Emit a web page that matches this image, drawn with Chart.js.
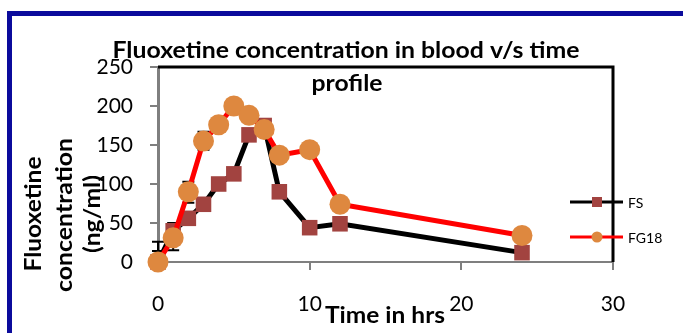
<!DOCTYPE html>
<html lang="en">
<head>
<meta charset="UTF-8">
<title>Fluoxetine concentration in blood v/s time profile</title>
<script src="https://cdn.jsdelivr.net/npm/chart.js@4.4.2/dist/chart.umd.min.js"></script>
<style>
  html, body { margin: 0; padding: 0; background: #ffffff; }
  #wrap { position: relative; width: 683px; height: 333px; overflow: hidden; }
</style>
</head>
<body>
<div id="wrap"><canvas id="pk-chart" width="683" height="333"></canvas></div>
<script>
// Datos del perfil: tiempo (h) y concentración en sangre (ng/ml)
const timeHrs = [0, 1, 2, 3, 4, 5, 6, 7, 8, 10, 12, 24];
const fsConc = [0, 40, 56, 74, 100, 113, 163, 175, 90, 44, 49, 12];
const fg18Conc = [0, 31, 90, 155, 176, 200, 188, 170, 137, 144, 74, 34];

// Barras de error (solo las primeras horas)
const errTimes = [0, 1, 2, 3];
const errLow = [14, 15, 76, 144];
const errHigh = [26, 50, 103, 167];

// Marcas de los ejes
const xTicks = [0, 10, 20, 30];
const yTicks = [0, 50, 100, 150, 200, 250];

const FONT = 'Lato';
const FS_MARK = '#A24340';
const FG_MARK = '#DE883F';

/**
 * Escribe un texto ajustado a un ancho dado (escala horizontal),
 * opcionalmente girado 90° para el título del eje Y.
 */
function drawFitted(ctx, text, x, y, width, font, vertical) {
    ctx.save();
    ctx.font = font;
    const w = ctx.measureText(text).width;
    ctx.translate(x, y);
    if (vertical) ctx.rotate(-Math.PI / 2);
    ctx.scale(width / w, 1);
    ctx.textAlign = 'center';
    ctx.textBaseline = 'alphabetic';
    ctx.fillStyle = '#000';
    ctx.fillText(text, 0, 0);
    ctx.restore();
}

// Marco azul, borde del área de trazado y barras de error
const framePlugin = {
    id: 'frame',
    beforeDraw(chart) {
        const ctx = chart.ctx;
        ctx.save();
        ctx.strokeStyle = '#0B0B9C';
        ctx.lineWidth = 5;
        ctx.strokeRect(9.5, 13.5, 1000, 1000);
        ctx.restore();
    },
    beforeDatasetsDraw(chart) {
        const { ctx, chartArea, scales } = chart;
        ctx.save();
        ctx.strokeStyle = '#000';
        ctx.lineWidth = 3;
        ctx.beginPath();
        ctx.moveTo(chartArea.left, chartArea.top);
        ctx.lineTo(chartArea.right, chartArea.top);
        ctx.lineTo(chartArea.right, chartArea.bottom);
        ctx.stroke();

        ctx.lineWidth = 2;
        errTimes.forEach((t, i) => {
            const px = scales.x.getPixelForValue(t);
            const lo = scales.y.getPixelForValue(errLow[i]);
            const hi = scales.y.getPixelForValue(errHigh[i]);
            ctx.beginPath();
            ctx.moveTo(px, lo);
            ctx.lineTo(px, hi);
            ctx.moveTo(px - 6, lo);
            ctx.lineTo(px + 6, lo);
            ctx.moveTo(px - 6, hi);
            ctx.lineTo(px + 6, hi);
            ctx.stroke();
        });
        ctx.restore();
    },
    afterDraw(chart) {
        const ctx = chart.ctx;
        // Títulos
        drawFitted(ctx, 'Fluoxetine concentration in blood v/s time', 346, 58, 467, `bold 23px ${FONT}`);
        drawFitted(ctx, 'profile', 347, 91, 71, `bold 23px ${FONT}`);
        drawFitted(ctx, 'Fluoxetine', 41, 214, 115, `bold 23px ${FONT}`, true);
        drawFitted(ctx, 'concentration', 72, 215, 154, `bold 23px ${FONT}`, true);
        drawFitted(ctx, '(ng/ml)', 100, 214, 78, `bold 23px ${FONT}`, true);
        drawFitted(ctx, 'Time in hrs', 385, 323, 120, `bold 23px ${FONT}`);

        // Leyenda
        const items = chart.data.datasets.map((ds, i) => ({ ds, y: 202 + i * 35 }));
        ctx.save();
        items.forEach(({ ds, y }) => {
            ctx.strokeStyle = ds.borderColor;
            ctx.lineWidth = 3;
            ctx.beginPath();
            ctx.moveTo(570, y);
            ctx.lineTo(623, y);
            ctx.stroke();
            ctx.fillStyle = ds.pointBackgroundColor;
            if (ds.pointStyle === 'rect') {
                ctx.fillRect(592, y - 5, 10, 10);
            } else {
                ctx.beginPath();
                ctx.arc(597, y, 5.5, 0, Math.PI * 2);
                ctx.fill();
            }
            ctx.fillStyle = '#000';
            ctx.font = `14px ${FONT}`;
            ctx.textAlign = 'left';
            ctx.textBaseline = 'middle';
            ctx.fillText(ds.label, 628, y + 1);
        });
        ctx.restore();
    }
};

function renderChart() {
    const ctx = document.getElementById('pk-chart');
    const axisGrey = '#7F7F7F';

    new Chart(ctx, {
        type: 'line',
        data: {
            datasets: [
                {
                    label: 'FS',
                    data: timeHrs.map((t, i) => ({ x: t, y: fsConc[i] })),
                    borderColor: '#000000',
                    borderWidth: 5,
                    pointStyle: 'rect',
                    pointRadius: 11,
                    pointBackgroundColor: FS_MARK,
                    pointBorderColor: FS_MARK,
                    pointBorderWidth: 0,
                    tension: 0,
                    clip: false,
                    order: 2
                },
                {
                    label: 'FG18',
                    data: timeHrs.map((t, i) => ({ x: t, y: fg18Conc[i] })),
                    borderColor: '#FF0000',
                    borderWidth: 5,
                    pointStyle: 'circle',
                    pointRadius: 10.5,
                    pointBackgroundColor: FG_MARK,
                    pointBorderColor: FG_MARK,
                    pointBorderWidth: 0,
                    tension: 0,
                    clip: false,
                    order: 1
                }
            ]
        },
        options: {
            responsive: false,
            animation: false,
            events: [],
            layout: { padding: { left: 0, top: 67, right: 70, bottom: 0 } },
            plugins: {
                legend: { display: false },
                title: { display: false },
                tooltip: { enabled: false }
            },
            scales: {
                x: {
                    type: 'linear',
                    min: 0,
                    max: 30,
                    afterFit: s => { s.height = 71; },
                    afterBuildTicks: s => { s.ticks = xTicks.map(v => ({ value: v })); },
                    border: { color: axisGrey, width: 2 },
                    grid: { drawOnChartArea: false, drawTicks: true, tickLength: 8, color: axisGrey, lineWidth: 2 },
                    ticks: { font: { family: FONT, size: 21 }, color: '#000', padding: 22, maxRotation: 0 }
                },
                y: {
                    min: 0,
                    max: 250,
                    afterFit: s => { s.width = 158; },
                    afterBuildTicks: s => { s.ticks = yTicks.map(v => ({ value: v })); },
                    border: { color: axisGrey, width: 3 },
                    grid: { drawOnChartArea: false, drawTicks: true, tickLength: 8, color: axisGrey, lineWidth: 2 },
                    ticks: { font: { family: FONT, size: 21 }, color: '#000', padding: 17 }
                }
            }
        },
        plugins: [framePlugin]
    });
}

// Esperamos a que la fuente esté lista antes de dibujar
Promise.all([
    document.fonts.load(`21px ${FONT}`),
    document.fonts.load(`bold 23px ${FONT}`)
]).then(renderChart, renderChart);
</script>
</body>
</html>
